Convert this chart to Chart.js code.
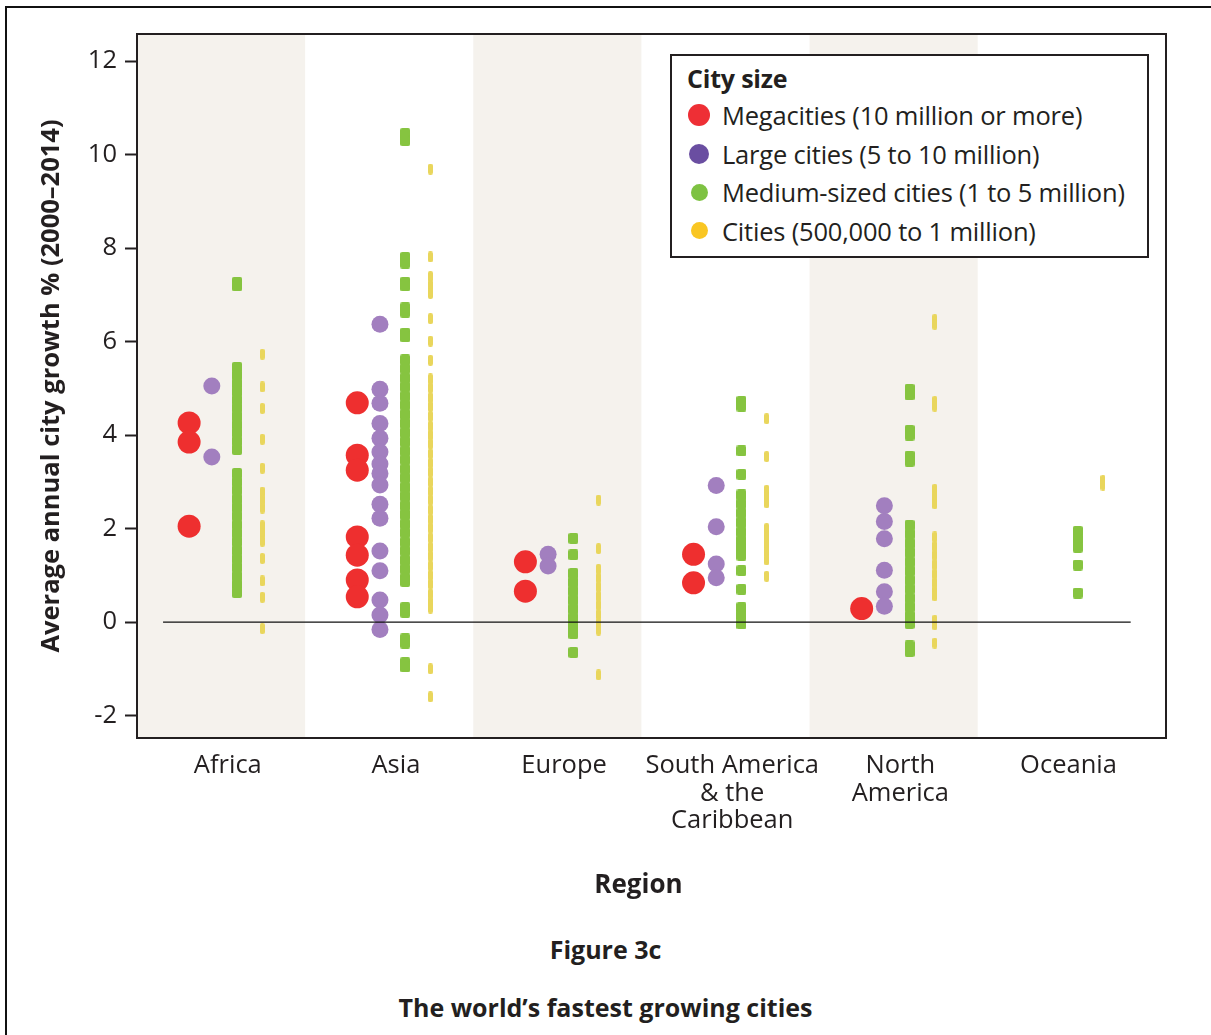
<!DOCTYPE html>
<html>
<head>
<meta charset="utf-8">
<script src="https://cdn.jsdelivr.net/npm/chart.js@4.4.1/dist/chart.umd.min.js"></script>
<style>
    body { margin: 0; background: #fff; font-family: 'Open Sans', sans-serif; color: #231f20; }
    #frame { position: absolute; left: 5px; top: 6px; width: 1230px; height: 1060px; border: 2px solid #111; box-sizing: border-box; }
    #Chart { position: absolute; left: 0; top: 0; }
    #legend { position: absolute; left: 670px; top: 54px; width: 479px; height: 204px; box-sizing: border-box;
        border: 2px solid #231f20; background: #fff; padding: 5px 0 0 15px; }
    #legend .ttl { font-weight: bold; font-size: 25px; line-height: 34px; margin-bottom: 1px; letter-spacing: -0.2px; }
    #legend .item { font-size: 25.5px; height: 38.5px; display: flex; align-items: center; white-space: nowrap; letter-spacing: -0.2px; }
    #legend .dot { width: 24px; display: flex; justify-content: center; align-items: center; margin-right: 11px; }
    #legend .dot span { display: block; border-radius: 50%; }
    .caption { position: absolute; left: 0; width: 1211px; text-align: center; font-weight: bold; font-size: 25px; line-height: 34px; }
</style>
</head>
<body>
<div id="frame"></div>
<canvas id="Chart" width="1211" height="910"></canvas>
<div id="legend"></div>
<div class="caption" style="top: 866px; left: 33px; font-size: 26px;">Region</div>
<div class="caption" style="top: 932px;">Figure 3c</div>
<div class="caption" style="top: 990px;">The world’s fastest growing cities</div>
<script>
// регионы (подписи оси X)
const regions = [['Africa'], ['Asia'], ['Europe'], ['South America', '& the', 'Caribbean'], ['North', 'America'], ['Oceania']];
const yTicks = [-2, 0, 2, 4, 6, 8, 10, 12];

// значения по регионам, в порядке regions
const megacities = [
    [4.26, 3.85, 2.05],
    [4.69, 3.57, 3.25, 1.82, 1.43, 0.9, 0.54],
    [1.29, 0.66],
    [1.45, 0.84],
    [0.29],
    []
];
const largeCities = [
    [5.05, 3.53],
    [6.37, 4.98, 4.68, 4.25, 3.93, 3.64, 3.38, 3.18, 2.93, 2.52, 2.22, 1.52, 1.1, 0.47, 0.15, -0.16],
    [1.45, 1.2],
    [2.92, 2.04, 1.24, 0.95],
    [2.49, 2.15, 1.78, 1.11, 0.65, 0.34],
    []
];
const mediumCities = [
    [7.27, 7.19, 5.45, 5.28, 5.1, 4.93, 4.75, 4.58, 4.4, 4.22, 4.05, 3.87, 3.69,
        3.18, 3.0, 2.82, 2.63, 2.45, 2.27, 2.08, 1.9, 1.72, 1.53, 1.35, 1.17, 0.98, 0.8, 0.63],
    [10.45, 10.3, 7.8, 7.68, 7.27, 7.19, 6.72, 6.63, 6.18, 6.1,
        5.61, 5.42, 5.22, 5.03, 4.83, 4.64, 4.44, 4.25, 4.05, 3.86, 3.66, 3.47, 3.27, 3.08, 2.88,
        2.69, 2.49, 2.3, 2.1, 1.91, 1.71, 1.52, 1.32, 1.13, 0.93, 0.87,
        0.31, 0.21, -0.36, -0.45, -0.87, -0.96],
    [1.79, 1.44, 1.04, 0.85, 0.66, 0.47, 0.28, 0.09, -0.1, -0.25, -0.65],
    [4.72, 4.62, 3.66, 3.16, 2.72, 2.53, 2.33, 2.13, 1.93, 1.74, 1.58, 1.43, 1.1, 0.7, 0.31, 0.14, -0.04],
    [4.98, 4.86, 4.1, 4.0, 3.55, 3.44, 2.07, 1.88, 1.68, 1.49, 1.29, 1.1, 0.9, 0.71, 0.51, 0.32, 0.12, -0.03, -0.51, -0.63],
    [1.94, 1.77, 1.6, 1.22, 0.62]
];
const smallCities = [
    [5.73, 5.03, 4.57, 3.91, 3.29, 2.78, 2.61, 2.44, 2.06, 1.9, 1.73, 1.36, 0.88, 0.53, -0.14],
    [9.69, 7.81, 7.39, 7.2, 7.03, 6.49, 6.01, 5.6,
        5.2, 5.01, 4.8, 4.61, 4.4, 4.19, 4.0, 3.81, 3.6, 3.4, 3.21, 3.0, 2.8, 2.61, 2.4, 2.2, 2.01,
        1.8, 1.6, 1.41, 1.2, 1.0, 0.81, 0.6, 0.42, 0.3, -1.0, -1.6],
    [2.61, 1.57, 1.13, 0.94, 0.75, 0.55, 0.36, 0.16, -0.03, -0.17, -1.13],
    [4.35, 3.54, 2.82, 2.68, 2.55, 2.0, 1.83, 1.66, 1.5, 1.33, 0.98],
    [6.47, 6.37, 4.72, 4.62, 2.84, 2.68, 2.53, 1.82, 1.62, 1.43, 1.23, 1.03, 0.84, 0.66, 0.56, 0.04, -0.06, -0.45],
    [3.03, 2.93]
];

const seriesNames = ['Megacities (10 million or more)', 'Large cities (5 to 10 million)',
    'Medium-sized cities (1 to 5 million)', 'Cities (500,000 to 1 million)'];
const dotColors = ['#ee2f2f', '#a27fbf', '#86c440', '#e9d65c'];
const legendColors = ['#ee2f35', '#6a4ea1', '#7ec242', '#f9c623'];
const legendSizes = [22, 20, 17, 17];
const xOffsets = [0.31, 0.445, 0.595, 0.745]; // смещение серии внутри региона

// маленькие прямоугольники для средних и малых городов
function makeBar(w, h, color) {
    const c = document.createElement('canvas');
    c.width = w;
    c.height = h;
    const g = c.getContext('2d');
    g.fillStyle = color;
    g.beginPath();
    g.roundRect(0, 0, w, h, 2);
    g.fill();
    return c;
}
const greenBar = makeBar(10, 11, dotColors[2]);
const yellowBar = makeBar(5, 11, dotColors[3]);

function toPoints(values, s) {
    let pts = [];
    values.forEach((list, i) => {
        list.forEach(v => pts.push({x: i + xOffsets[s], y: v}));
    });
    return pts;
}

// фон регионов, нулевая линия и рамка
const bands = {
    id: 'bands',
    beforeDatasetsDraw(chart) {
        const {ctx, chartArea, scales: {x}} = chart;
        ctx.save();
        ctx.fillStyle = '#f5f2ed';
        for (let i = 0; i < regions.length; i += 2) {
            const l = x.getPixelForValue(i);
            const r = x.getPixelForValue(i + 1);
            ctx.fillRect(l, chartArea.top, r - l, chartArea.bottom - chartArea.top);
        }
        ctx.restore();
    },
    afterDatasetsDraw(chart) {
        const {ctx, chartArea, scales: {x, y}} = chart;
        ctx.save();
        ctx.strokeStyle = '#111';
        ctx.lineWidth = 1.3;
        const y0 = y.getPixelForValue(0);
        ctx.beginPath();
        ctx.moveTo(x.getPixelForValue(0.155), y0);
        ctx.lineTo(x.getPixelForValue(5.91), y0);
        ctx.stroke();
        ctx.strokeStyle = '#231f20';
        ctx.lineWidth = 2;
        ctx.strokeRect(chartArea.left, chartArea.top, chartArea.right - chartArea.left, chartArea.bottom - chartArea.top);
        ctx.restore();
    }
};

const canvas = document.getElementById('Chart');
const ctx = canvas.getContext('2d');
const chart = new Chart(ctx, {
    type: 'scatter',
    data: {
        datasets: [
            {label: seriesNames[0], data: toPoints(megacities, 0), backgroundColor: dotColors[0], pointRadius: 11.5, borderWidth: 0},
            {label: seriesNames[1], data: toPoints(largeCities, 1), backgroundColor: dotColors[1], pointRadius: 8.5, borderWidth: 0},
            {label: seriesNames[2], data: toPoints(mediumCities, 2), pointStyle: greenBar, pointRadius: 6},
            {label: seriesNames[3], data: toPoints(smallCities, 3), pointStyle: yellowBar, pointRadius: 6}
        ]
    },
    options: {
        responsive: false,
        animation: false,
        layout: {padding: {top: 34, right: 45, left: 0, bottom: 0}},
        plugins: {legend: {display: false}, tooltip: {enabled: false}},
        scales: {
            x: {
                type: 'linear',
                min: 0,
                max: 6.12,
                afterFit: s => { s.height = 172; },
                afterBuildTicks: s => { s.ticks = regions.map((r, i) => ({value: i + 0.54})); },
                ticks: {
                    autoSkip: false,
                    maxRotation: 0,
                    padding: 6,
                    color: '#231f20',
                    font: {family: 'Open Sans', size: 25.5, lineHeight: 1.08},
                    callback: (v, i) => regions[i]
                },
                grid: {display: false},
                border: {display: false},
                title: {display: false}
            },
            y: {
                min: -2.48,
                max: 12.58,
                afterFit: s => { s.width = 137; },
                afterBuildTicks: s => { s.ticks = yTicks.map(v => ({value: v})); },
                ticks: {
                    padding: 8,
                    color: '#231f20',
                    font: {family: 'Open Sans', size: 25.5}
                },
                grid: {drawOnChartArea: false, drawTicks: true, tickLength: 12, tickColor: '#231f20', tickWidth: 2},
                border: {display: false},
                title: {
                    display: true,
                    text: 'Average annual city growth % (2000–2014)',
                    color: '#231f20',
                    font: {family: 'Open Sans', size: 25.5, weight: 'bold', lineHeight: 1.1},
                    padding: {top: 38, bottom: 0}
                }
            }
        }
    },
    plugins: [bands]
});

// легенда
const legend = document.getElementById('legend');
let html = '<div class="ttl">City size</div>';
seriesNames.forEach((name, i) => {
    const d = legendSizes[i];
    html += '<div class="item"><span class="dot"><span style="width:' + d + 'px;height:' + d +
        'px;background:' + legendColors[i] + '"></span></span>' + name + '</div>';
});
legend.innerHTML = html;
</script>
</body>
</html>
